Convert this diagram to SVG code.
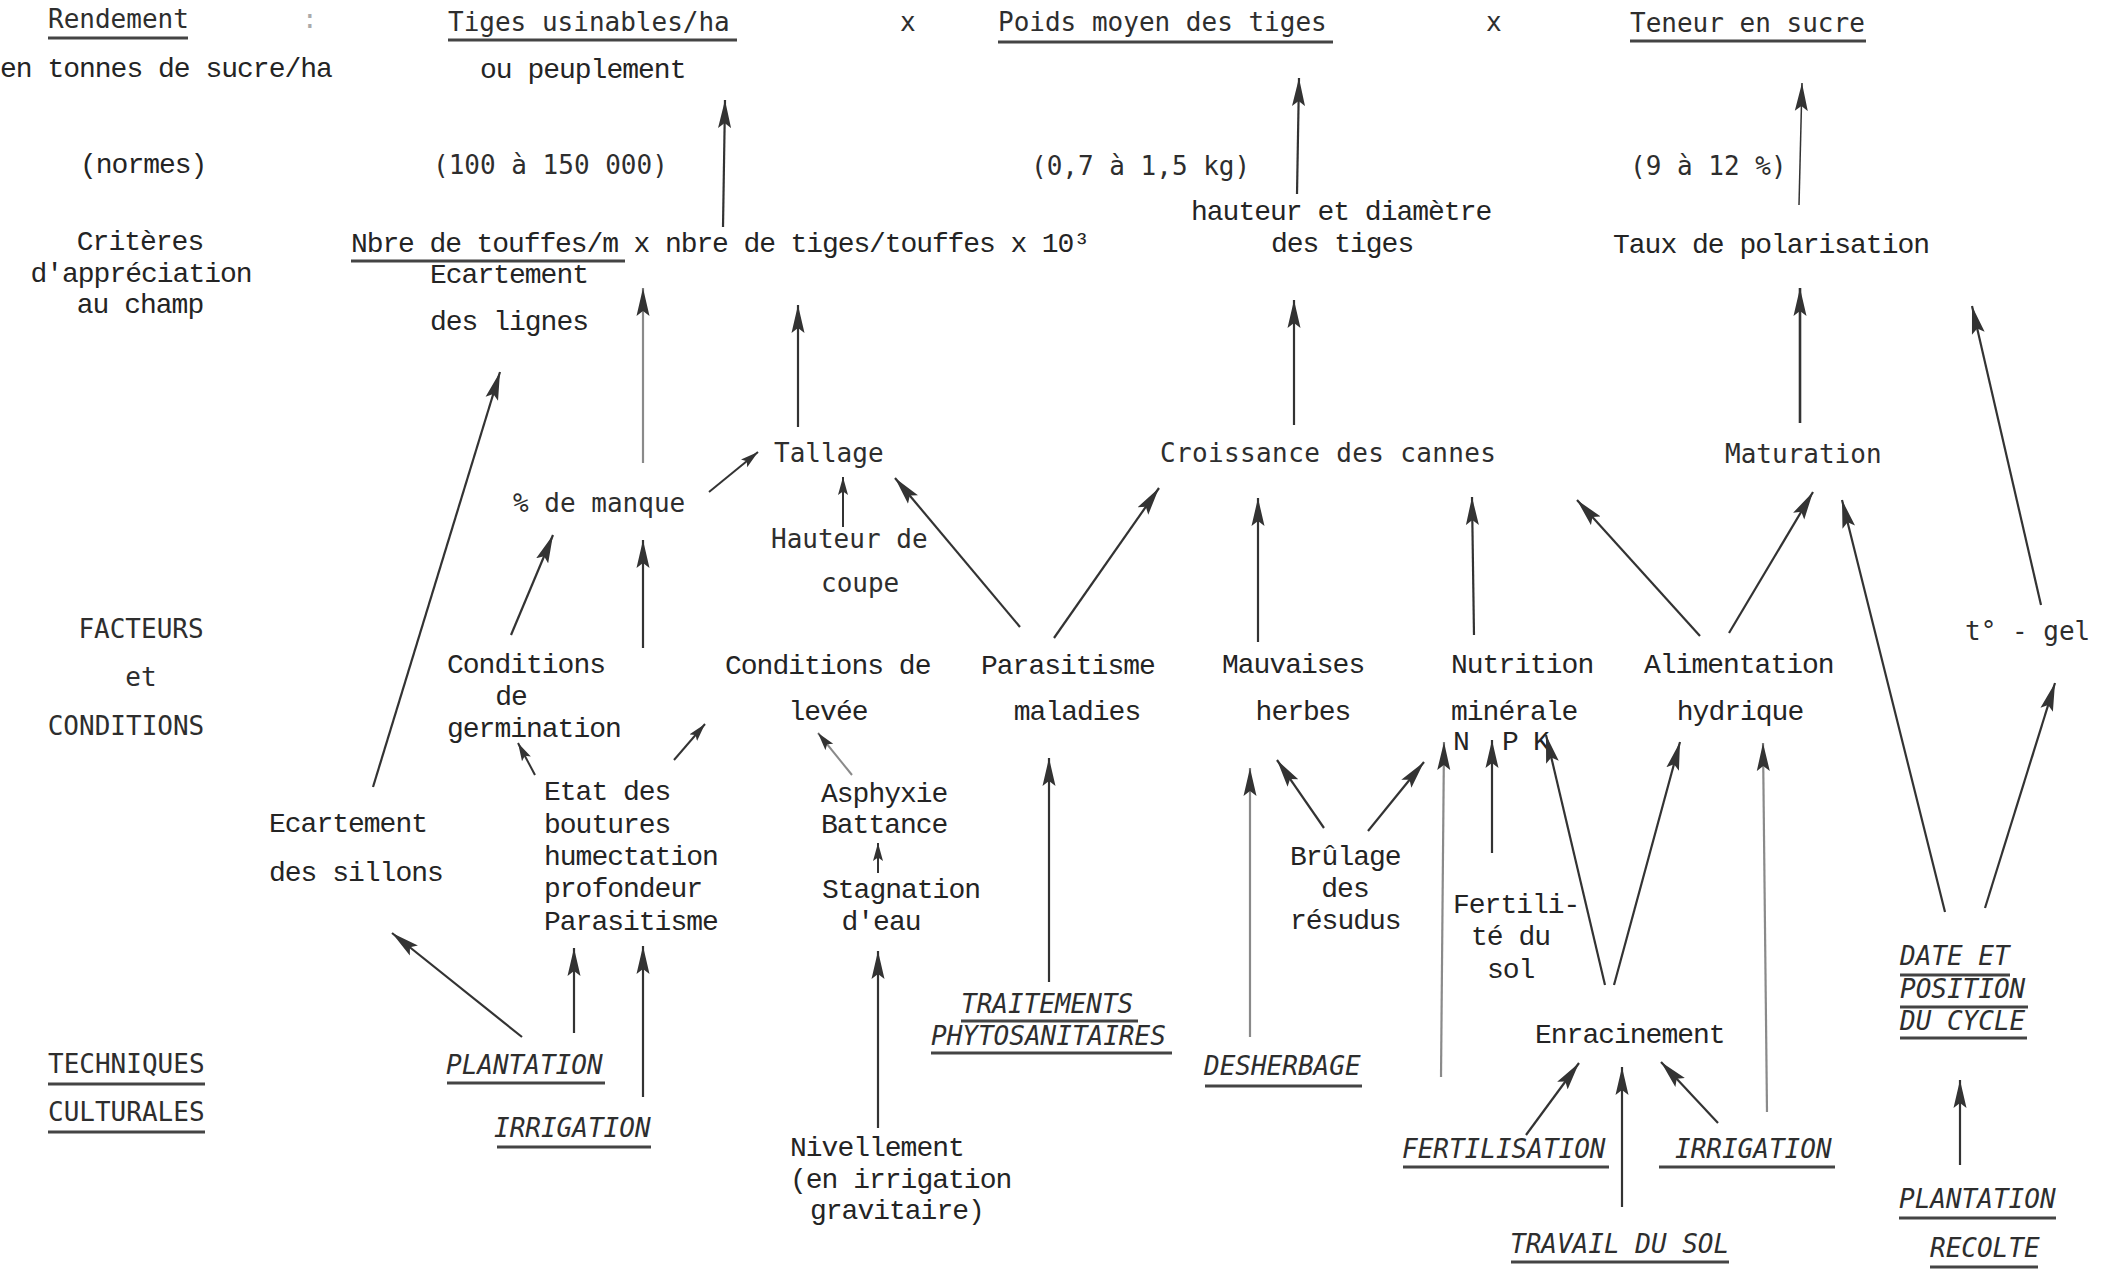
<svg xmlns="http://www.w3.org/2000/svg" width="2110" height="1272" viewBox="0 0 2110 1272">
<style>
.m{font-family:"Liberation Mono","Courier New",monospace;font-size:28px;letter-spacing:-1px;fill:#242424}
.s{font-family:"DejaVu Sans Mono","Liberation Mono",monospace;font-size:26px;fill:#2e2e2e}
.i{font-family:"DejaVu Sans Mono","Liberation Mono",monospace;font-size:26px;font-style:italic;fill:#2e2e2e}
.mc{text-anchor:middle}
.u{stroke:#444;stroke-width:3}
.c{stroke:#333;stroke-width:2.2;fill:none;marker-end:url(#ah)}
.k{stroke:#333;stroke-width:2;fill:none;marker-end:url(#as)}
.g{stroke:#8a8a8a}
</style>
<defs>
<marker id="ah" markerUnits="userSpaceOnUse" markerWidth="30" markerHeight="14" refX="28" refY="7" orient="auto" viewBox="0 0 30 14">
<path d="M0,0.5 L28,7 L0,13.5 L5,7 Z" fill="#333"/>
</marker>
<marker id="as" markerUnits="userSpaceOnUse" markerWidth="19" markerHeight="11" refX="18" refY="5.5" orient="auto" viewBox="0 0 19 11">
<path d="M0,0.5 L18,5.5 L0,10.5 L3.5,5.5 Z" fill="#333"/>
</marker>
</defs>
<rect width="2110" height="1272" fill="#ffffff"/>

<g id="n-rendement"><text class="s" x="48" y="28">Rendement</text><line class="u" x1="48" y1="38" x2="188" y2="38"/></g>
<g id="n-colon"><text class="s" x="302" y="28" style="fill:#aaaaaa">:</text></g>
<g id="n-tiges"><text class="s" x="448" y="31">Tiges usinables/ha</text><line class="u" x1="448" y1="40" x2="737" y2="40"/></g>
<g id="n-x1"><text class="s" x="900" y="31">x</text></g>
<g id="n-poids"><text class="s" x="998" y="31">Poids moyen des tiges</text><line class="u" x1="998" y1="42" x2="1333" y2="42"/></g>
<g id="n-x2"><text class="s" x="1486" y="31">x</text></g>
<g id="n-teneur"><text class="s" x="1630" y="32">Teneur en sucre</text><line class="u" x1="1630" y1="41" x2="1866" y2="41"/></g>

<g id="n-tonnes"><text class="m" x="0" y="77">en tonnes de sucre/ha</text></g>
<g id="n-peuplement"><text class="m" x="480" y="78">ou peuplement</text></g>

<g id="n-normes"><text class="m" x="80" y="173">(normes)</text></g>
<g id="n-norme1"><text class="s" x="433" y="174">(100 à 150 000)</text></g>
<g id="n-norme2"><text class="s" x="1031" y="175">(0,7 à 1,5 kg)</text></g>
<g id="n-norme3"><text class="s" x="1630" y="175">(9 à 12 %)</text></g>

<g id="n-criteres"><text class="m mc" x="140" y="250">Critères</text><text class="m mc" x="141" y="282">d'appréciation</text><text class="m mc" x="140" y="313">au champ</text></g>
<g id="n-nbre"><text class="m" x="351" y="252" textLength="738">Nbre de touffes/m x nbre de tiges/touffes x 10³</text><line class="u" x1="351" y1="261" x2="625" y2="261"/></g>
<g id="n-ecart-lignes"><text class="m" x="430" y="283">Ecartement</text><text class="m" x="430" y="330">des lignes</text></g>
<g id="n-hauteur-diam"><text class="m" x="1191" y="220">hauteur et diamètre</text><text class="m" x="1271" y="252">des tiges</text></g>
<g id="n-taux"><text class="m" x="1613" y="253">Taux de polarisation</text></g>

<g id="n-tallage"><text class="s" x="774" y="462">Tallage</text></g>
<g id="n-croissance"><text class="s" x="1160" y="462" textLength="336">Croissance des cannes</text></g>
<g id="n-maturation"><text class="s" x="1725" y="463">Maturation</text></g>
<g id="n-manque"><text class="s" x="513" y="512">% de manque</text></g>
<g id="n-hauteur-coupe"><text class="s" x="771" y="548">Hauteur de</text><text class="s" x="821" y="592">coupe</text></g>

<g id="n-facteurs"><text class="s mc" x="141" y="638">FACTEURS</text><text class="s mc" x="141" y="686">et</text><text class="s mc" x="126" y="735">CONDITIONS</text></g>
<g id="n-germination"><text class="m" x="447" y="673">Conditions</text><text class="m mc" x="511" y="705">de</text><text class="m" x="447" y="737">germination</text></g>
<g id="n-levee"><text class="m" x="725" y="674">Conditions de</text><text class="m mc" x="828" y="720">levée</text></g>
<g id="n-parasitisme"><text class="m" x="981" y="674">Parasitisme</text><text class="m mc" x="1077" y="720">maladies</text></g>
<g id="n-mauvaises"><text class="m" x="1222" y="673">Mauvaises</text><text class="m mc" x="1303" y="720">herbes</text></g>
<g id="n-nutrition"><text class="m" x="1451" y="673">Nutrition</text><text class="m" x="1451" y="720">minérale</text><text class="m" x="1453" y="750">N</text><text class="m" x="1502" y="750">P</text><text class="m" x="1533" y="750">K</text></g>
<g id="n-alimentation"><text class="m" x="1644" y="673">Alimentation</text><text class="m mc" x="1740" y="720">hydrique</text></g>
<g id="n-gel"><text class="s" x="1965" y="640">t° - gel</text></g>

<g id="n-ecart-sillons"><text class="m" x="269" y="832">Ecartement</text><text class="m" x="269" y="881">des sillons</text></g>
<g id="n-etat"><text class="m" x="544" y="800">Etat des</text><text class="m" x="544" y="833">boutures</text><text class="m" x="544" y="865">humectation</text><text class="m" x="544" y="897">profondeur</text><text class="m" x="544" y="930">Parasitisme</text></g>
<g id="n-asphyxie"><text class="m" x="821" y="802">Asphyxie</text><text class="m" x="821" y="833">Battance</text></g>
<g id="n-stagnation"><text class="m" x="822" y="898">Stagnation</text><text class="m mc" x="881" y="930">d'eau</text></g>
<g id="n-brulage"><text class="m" x="1290" y="865">Brûlage</text><text class="m mc" x="1345" y="897">des</text><text class="m" x="1290" y="929">résudus</text></g>
<g id="n-fertilite"><text class="m" x="1453" y="913">Fertili-</text><text class="m" x="1471" y="945">té du</text><text class="m" x="1487" y="978">sol</text></g>
<g id="n-enracinement"><text class="m" x="1535" y="1043">Enracinement</text></g>
<g id="n-date"><text class="i" x="1900" y="965">DATE ET</text><line class="u" x1="1900" y1="975" x2="2010" y2="975"/><text class="i" x="1900" y="998">POSITION</text><line class="u" x1="1900" y1="1007" x2="2028" y2="1007"/><text class="i" x="1900" y="1030">DU CYCLE</text><line class="u" x1="1900" y1="1038" x2="2027" y2="1038"/></g>

<g id="n-techniques"><text class="s" x="48" y="1073">TECHNIQUES</text><line class="u" x1="48" y1="1084" x2="205" y2="1084"/><text class="s" x="48" y="1121">CULTURALES</text><line class="u" x1="48" y1="1132" x2="205" y2="1132"/></g>
<g id="n-plantation1"><text class="i" x="446" y="1074">PLANTATION</text><line class="u" x1="447" y1="1083" x2="605" y2="1083"/></g>
<g id="n-irrigation1"><text class="i" x="494" y="1137">IRRIGATION</text><line class="u" x1="497" y1="1147" x2="651" y2="1147"/></g>
<g id="n-nivellement"><text class="m" x="790" y="1156">Nivellement</text><text class="m" x="790" y="1188">(en irrigation</text><text class="m" x="810" y="1219">gravitaire)</text></g>
<g id="n-traitements"><text class="i" x="961" y="1013">TRAITEMENTS</text><line class="u" x1="961" y1="1021" x2="1138" y2="1021"/><text class="i" x="931" y="1045">PHYTOSANITAIRES</text><line class="u" x1="931" y1="1053" x2="1172" y2="1053"/></g>
<g id="n-desherbage"><text class="i" x="1204" y="1075">DESHERBAGE</text><line class="u" x1="1205" y1="1086" x2="1362" y2="1086"/></g>
<g id="n-fertilisation"><text class="i" x="1402" y="1158">FERTILISATION</text><line class="u" x1="1403" y1="1167" x2="1609" y2="1167"/></g>
<g id="n-irrigation2"><text class="i" x="1675" y="1158">IRRIGATION</text><line class="u" x1="1659" y1="1167" x2="1835" y2="1167"/></g>
<g id="n-travail"><text class="i" x="1510" y="1253">TRAVAIL DU SOL</text><line class="u" x1="1511" y1="1262" x2="1729" y2="1262"/></g>
<g id="n-plantation2"><text class="i" x="1899" y="1208">PLANTATION</text><line class="u" x1="1899" y1="1218" x2="2056" y2="1218"/></g>
<g id="n-recolte"><text class="i" x="1930" y="1257">RECOLTE</text><line class="u" x1="1930" y1="1267" x2="2038" y2="1267"/></g>

<g id="connectors">
<line class="c" x1="723" y1="227" x2="725" y2="100"/>
<line class="c" x1="1297" y1="194" x2="1299" y2="78"/>
<line class="c" x1="1799" y1="205" x2="1802" y2="83" style="stroke-width:1.5"/>
<line class="c g" x1="643" y1="463" x2="643" y2="288"/>
<line class="c" x1="798" y1="427" x2="798" y2="305"/>
<line class="c" x1="1294" y1="425" x2="1294" y2="300"/>
<line class="c" x1="1800" y1="423" x2="1800" y2="288" style="stroke-width:2.6"/>
<line class="c" x1="2041" y1="605" x2="1972" y2="306"/>
<line class="c" x1="373" y1="787" x2="500" y2="372"/>
<line class="k" x1="709" y1="492" x2="758" y2="452"/>
<line class="k" x1="843" y1="527" x2="843" y2="477"/>
<line class="c" x1="511" y1="635" x2="553" y2="535"/>
<line class="c" x1="643" y1="648" x2="643" y2="540"/>
<line class="c" x1="1020" y1="627" x2="895" y2="478"/>
<line class="c" x1="1054" y1="638" x2="1159" y2="488"/>
<line class="c" x1="1258" y1="642" x2="1258" y2="498"/>
<line class="c" x1="1474" y1="635" x2="1472" y2="497"/>
<line class="c" x1="1700" y1="636" x2="1577" y2="500"/>
<line class="c" x1="1729" y1="633" x2="1813" y2="492"/>
<line class="c" x1="1945" y1="912" x2="1842" y2="500"/>
<line class="c" x1="1985" y1="908" x2="2055" y2="683"/>
<line class="c" x1="1960" y1="1165" x2="1960" y2="1080"/>
<line class="k" x1="535" y1="775" x2="518" y2="743"/>
<line class="k" x1="674" y1="760" x2="705" y2="724"/>
<line class="k g" x1="852" y1="775" x2="818" y2="733"/>
<line class="k" x1="878" y1="873" x2="878" y2="843"/>
<line class="c" x1="878" y1="1128" x2="878" y2="951"/>
<line class="c" x1="1049" y1="982" x2="1049" y2="758"/>
<line class="c" x1="522" y1="1037" x2="392" y2="933"/>
<line class="c" x1="574" y1="1033" x2="574" y2="948"/>
<line class="c" x1="643" y1="1097" x2="643" y2="946"/>
<line class="c g" x1="1250" y1="1037" x2="1250" y2="768"/>
<line class="c" x1="1324" y1="828" x2="1277" y2="760"/>
<line class="c" x1="1368" y1="831" x2="1424" y2="762"/>
<line class="c g" x1="1441" y1="1077" x2="1444" y2="742"/>
<line class="c" x1="1492" y1="853" x2="1492" y2="740"/>
<line class="c" x1="1605" y1="985" x2="1546" y2="735"/>
<line class="c" x1="1614" y1="985" x2="1680" y2="742"/>
<line class="c g" x1="1767" y1="1112" x2="1763" y2="743"/>
<line class="c" x1="1526" y1="1135" x2="1579" y2="1063"/>
<line class="c" x1="1622" y1="1207" x2="1622" y2="1067"/>
<line class="c" x1="1718" y1="1123" x2="1661" y2="1062"/>
</g>
</svg>
